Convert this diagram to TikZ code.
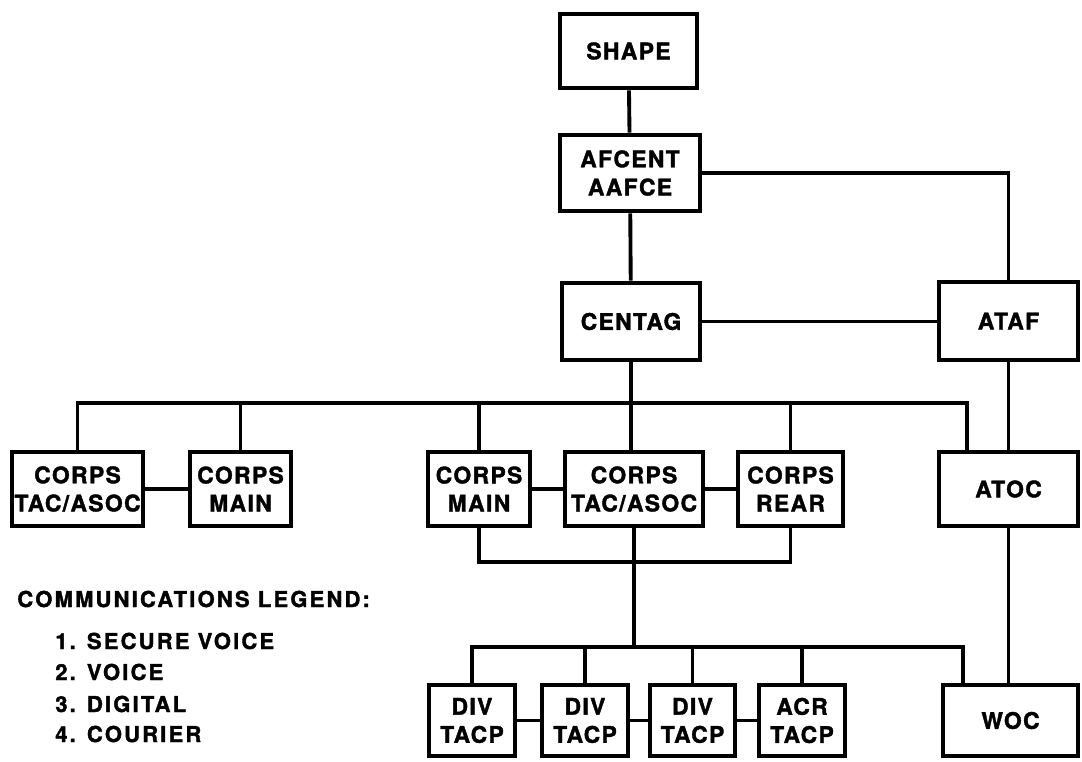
\documentclass[tikz,border=0pt]{standalone}
\usepackage{fontspec}
\setmainfont{TeX Gyre Heros}
\newfontfamily\boxfont{TeX Gyre Heros}[LetterSpace=6, FakeBold=1.6]
\newfontfamily\legendfont{TeX Gyre Heros}[LetterSpace=10, FakeBold=1.6]
\usepackage{tikz}

\begin{document}
\begin{tikzpicture}[x=0.2mm, y=-0.2mm,
    orgbox/.style={draw, line width=2.8pt, inner sep=0pt, align=center,
        font=\boxfont\bfseries\fontsize{13}{16}\selectfont},
    wire/.style={line width=2.2pt},
    legend/.style={anchor=base west, inner sep=0pt,
        font=\legendfont\bfseries\fontsize{12.5}{14}\selectfont}]
    \useasboundingbox (0,0) rectangle (1082,761);

    % Command chain
    \node[orgbox, minimum width=137*0.2mm, minimum height=74*0.2mm] (shape) at (628.5,51) {SHAPE};
    \node[orgbox, minimum width=140*0.2mm, minimum height=76*0.2mm] (afcent) at (630,173) {AFCENT\\AAFCE};
    \node[orgbox, minimum width=138*0.2mm, minimum height=77*0.2mm] (centag) at (631,321.5) {CENTAG};
    \node[orgbox, minimum width=139*0.2mm, minimum height=78*0.2mm] (ataf) at (1008.5,321) {ATAF};

    % Corps row
    \node[orgbox, minimum width=131*0.2mm, minimum height=74*0.2mm] (ctaL) at (77.5,489) {CORPS\\TAC/ASOC};
    \node[orgbox, minimum width=101*0.2mm, minimum height=74*0.2mm] (cmL) at (240.5,489) {CORPS\\MAIN};
    \node[orgbox, minimum width=102*0.2mm, minimum height=74*0.2mm] (cmM) at (479,489) {CORPS\\MAIN};
    \node[orgbox, minimum width=138*0.2mm, minimum height=74*0.2mm] (ctaM) at (634,489) {CORPS\\TAC/ASOC};
    \node[orgbox, minimum width=105*0.2mm, minimum height=74*0.2mm] (cr) at (790.5,489) {CORPS\\REAR};
    \node[orgbox, minimum width=139*0.2mm, minimum height=74*0.2mm] (atoc) at (1008.5,489) {ATOC};

    % Division row
    \node[orgbox, minimum width=86*0.2mm, minimum height=71*0.2mm] (div1) at (472,720.5) {DIV\\TACP};
    \node[orgbox, minimum width=86*0.2mm, minimum height=71*0.2mm] (div2) at (585,720.5) {DIV\\TACP};
    \node[orgbox, minimum width=85*0.2mm, minimum height=71*0.2mm] (div3) at (692.5,720.5) {DIV\\TACP};
    \node[orgbox, minimum width=86*0.2mm, minimum height=71*0.2mm] (acr) at (802,720.5) {ACR\\TACP};
    \node[orgbox, minimum width=135*0.2mm, minimum height=71*0.2mm] (woc) at (1010.5,720.5) {WOC};

    \coordinate (busR) at (967,403);
    \coordinate (join) at (633,562);
    \coordinate (divR) at (963,647);

    % Links
    \draw[wire] (shape) -- (afcent);
    \draw[wire] (afcent) -- (centag);
    \draw[wire] (afcent.east) -| (ataf.north);
    \draw[wire] (centag.east) -- (centag.east -| ataf.west);
    \draw[wire] (ataf) -- (atoc);
    \draw[wire] (atoc.south) -- (atoc.south |- woc.north);

    \draw[wire] (ctaL.north) |- (busR) -- (busR |- atoc.north);
    \draw[wire] (centag.south) -- (centag.south |- ctaM.north);
    \foreach \n in {cmL, cmM, cr}
        \draw[wire] (\n.north) -- (\n.north |- busR);
    \draw[wire] (ctaL) -- (cmL);
    \draw[wire] (cmM) -- (ctaM);
    \draw[wire] (ctaM) -- (cr);

    \draw[wire] (cmM.south) |- (join) -| (cr.south);
    \draw[wire] (ctaM.south) -- (ctaM.south |- divR);
    \draw[wire] (div1.north) |- (divR) -- (divR |- woc.north);
    \foreach \n in {div2, div3, acr}
        \draw[wire] (\n.north) -- (\n.north |- divR);
    \draw[wire] (div1) -- (div2);
    \draw[wire] (div2) -- (div3);
    \draw[wire] (div3) -- (acr);

    % Legend
    \node[legend] (legtitle) at (17,607) {COMMUNICATIONS LEGEND:};
    \foreach \i/\txt/\yy in {1/SECURE VOICE/649, 2/VOICE/680, 3/DIGITAL/712, 4/COURIER/742}
        \node[legend] (leg\i) at (55,\yy) {\i. \txt};
\end{tikzpicture}
\end{document}
